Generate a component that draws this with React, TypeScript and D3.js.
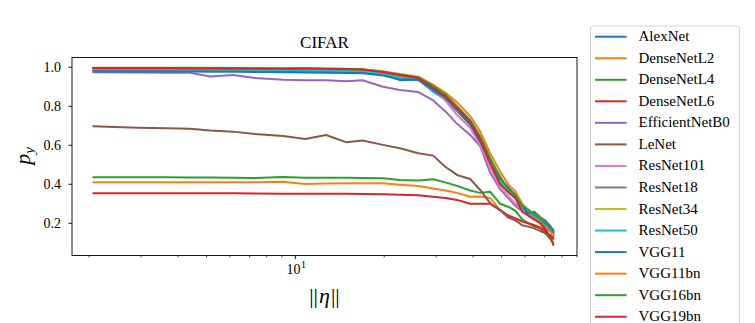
import React from 'react';
import * as d3 from 'd3';

const etaValues = [2.07, 2.91, 3.68, 4.40, 5.14, 6.15, 7.30, 9.08, 10.8, 12.7, 14.9, 16.9, 19.8, 22.6, 26.1, 29.3, 32.2, 35.3, 39.1, 42.3, 45.7, 49.4, 52.6, 55.6, 58.7, 61.5, 64.4, 67.6, 70.2, 73.0, 74.8];

const seriesNames = ['AlexNet', 'DenseNetL2', 'DenseNetL4', 'DenseNetL6', 'EfficientNetB0', 'LeNet', 'ResNet101', 'ResNet18', 'ResNet34', 'ResNet50', 'VGG11', 'VGG11bn', 'VGG16bn', 'VGG19bn'];

const alexNet = [0.984,0.984,0.984,0.983,0.983,0.982,0.981,0.979,0.977,0.976,0.975,0.972,0.962,0.934,0.937,0.875,0.835,0.775,0.705,0.615,0.52,0.44,0.37,0.35,0.27,0.26,0.255,0.232,0.205,0.185,0.16];
const denseNetL2 = [0.41,0.41,0.41,0.41,0.41,0.41,0.41,0.413,0.402,0.404,0.406,0.406,0.405,0.398,0.391,0.379,0.368,0.356,0.336,0.338,0.33,0.268,0.24,0.225,0.21,0.2,0.19,0.18,0.17,0.16,0.15];
const denseNetL4 = [0.436,0.436,0.436,0.435,0.435,0.433,0.432,0.437,0.433,0.433,0.433,0.432,0.431,0.422,0.42,0.426,0.41,0.392,0.368,0.356,0.362,0.30,0.285,0.265,0.22,0.20,0.185,0.175,0.15,0.12,0.10];
const denseNetL6 = [0.354,0.354,0.354,0.354,0.354,0.354,0.353,0.352,0.352,0.352,0.351,0.35,0.349,0.347,0.344,0.336,0.33,0.32,0.30,0.30,0.30,0.268,0.24,0.225,0.21,0.20,0.19,0.175,0.16,0.135,0.12];
const efficientNetB0 = [0.974,0.973,0.972,0.972,0.953,0.96,0.945,0.936,0.934,0.933,0.928,0.933,0.9,0.883,0.873,0.83,0.775,0.71,0.653,0.595,0.46,0.375,0.33,0.29,0.26,0.24,0.22,0.21,0.18,0.16,0.14];
const leNet = [0.698,0.69,0.687,0.685,0.676,0.67,0.658,0.648,0.632,0.653,0.615,0.624,0.602,0.585,0.559,0.547,0.49,0.448,0.427,0.371,0.303,0.268,0.23,0.215,0.19,0.183,0.174,0.16,0.15,0.14,0.13];
const resNet101 = [0.99,0.99,0.99,0.989,0.989,0.988,0.987,0.986,0.985,0.985,0.984,0.982,0.97,0.952,0.94,0.885,0.83,0.755,0.69,0.6,0.49,0.385,0.34,0.3,0.275,0.245,0.23,0.21,0.185,0.16,0.14];
const resNet18 = [0.991,0.991,0.991,0.99,0.99,0.99,0.989,0.988,0.988,0.987,0.986,0.984,0.972,0.957,0.945,0.895,0.85,0.79,0.72,0.635,0.52,0.42,0.36,0.33,0.28,0.255,0.235,0.215,0.19,0.165,0.145];
const resNet34 = [0.993,0.993,0.993,0.992,0.992,0.991,0.99,0.99,0.99,0.989,0.988,0.986,0.975,0.96,0.948,0.9,0.855,0.795,0.725,0.64,0.53,0.425,0.37,0.335,0.285,0.26,0.24,0.22,0.195,0.17,0.15];
const resNet50 = [0.988,0.988,0.988,0.987,0.987,0.986,0.985,0.984,0.984,0.983,0.982,0.979,0.967,0.948,0.935,0.88,0.84,0.78,0.71,0.625,0.515,0.41,0.36,0.34,0.28,0.255,0.24,0.22,0.195,0.17,0.15];
const vgg11 = [0.978,0.978,0.978,0.978,0.977,0.977,0.976,0.974,0.973,0.972,0.971,0.969,0.958,0.938,0.935,0.885,0.845,0.785,0.71,0.62,0.51,0.43,0.385,0.345,0.29,0.25,0.26,0.23,0.215,0.185,0.165];
const vgg11bn = [0.998,0.998,0.998,0.997,0.997,0.996,0.995,0.993,0.995,0.993,0.992,0.99,0.98,0.966,0.952,0.91,0.87,0.82,0.75,0.67,0.56,0.465,0.40,0.365,0.30,0.27,0.245,0.23,0.20,0.17,0.14];
const vgg16bn = [0.996,0.996,0.996,0.995,0.995,0.994,0.993,0.992,0.993,0.991,0.99,0.988,0.977,0.962,0.948,0.905,0.86,0.8,0.73,0.645,0.535,0.435,0.375,0.345,0.29,0.27,0.245,0.225,0.2,0.175,0.155];
const vgg19bn = [0.996,0.996,0.996,0.995,0.995,0.995,0.994,0.993,0.994,0.992,0.991,0.989,0.975,0.96,0.945,0.895,0.85,0.79,0.72,0.63,0.51,0.40,0.36,0.33,0.26,0.24,0.22,0.20,0.17,0.13,0.09];

const seriesValues = [alexNet, denseNetL2, denseNetL4, denseNetL6, efficientNetB0, leNet, resNet101, resNet18, resNet34, resNet50, vgg11, vgg11bn, vgg16bn, vgg19bn];

const yTicks = [0.2, 0.4, 0.6, 0.8, 1.0];
const xMinorTicks = [2, 3, 4, 5, 6, 7, 8, 9, 20, 30, 40, 50, 60, 70, 80, 90];
const xMajorTicks = [10];

const FONT = '"Liberation Serif", "Times New Roman", serif';

export default function App() {
  const W = 755, H = 323;
  const L = 72, R = 577, T = 57.5, B = 255.5;
  const x = d3.scaleLog().domain([1.75, 90]).range([L, R]);
  const y = d3.scaleLinear().domain([0.035, 1.05]).range([B, T]);
  const colors = d3.schemeCategory10;
  const line = d3.line<number>().x((_, i) => x(etaValues[i])).y((d) => y(d));

  const legX = 590.5, legY = 26, legW = 149, rowH = 21.54, firstRow = 36.7;

  return (
    <svg width={W} height={H} style={{ position: 'absolute', left: 0, top: 0, background: '#fff' }} fontFamily={FONT}>
      <defs>
        <clipPath id="plotclip">
          <rect x={L} y={T} width={R - L} height={B - T} />
        </clipPath>
      </defs>
      <rect x={0} y={0} width={W} height={H} fill="#fff" />
      <g clipPath="url(#plotclip)">
        {seriesValues.map((vals, i) => (
          <path key={seriesNames[i]} d={line(vals) || ''} fill="none" stroke={colors[i % 10]} strokeWidth={2} strokeLinejoin="round" strokeLinecap="square" />
        ))}
      </g>
      <rect x={L} y={T} width={R - L} height={B - T} fill="none" stroke="#000" strokeWidth={0.9} />
      {yTicks.map((t) => (
        <g key={t}>
          <line x1={L - 3.5} x2={L} y1={y(t)} y2={y(t)} stroke="#000" strokeWidth={0.9} />
          <text x={L - 11} y={y(t)} dy="0.35em" textAnchor="end" fontSize={14}>{t.toFixed(1)}</text>
        </g>
      ))}
      {xMinorTicks.map((t) => (
        <line key={t} x1={x(t)} x2={x(t)} y1={B} y2={B + 2} stroke="#000" strokeWidth={0.7} />
      ))}
      {xMajorTicks.map((t) => (
        <g key={t}>
          <line x1={x(t)} x2={x(t)} y1={B} y2={B + 3.5} stroke="#000" strokeWidth={0.9} />
          <text x={x(t) - 2} y={B + 18.5} textAnchor="middle" fontSize={14}>10</text>
          <text x={x(t) + 8} y={B + 12.5} textAnchor="middle" fontSize={10}>1</text>
        </g>
      ))}
      <text x={(L + R) / 2} y={48} textAnchor="middle" fontSize={17}>CIFAR</text>
      <text x={(L + R) / 2} y={303} textAnchor="middle" fontSize={22}>
        <tspan>||</tspan><tspan fontStyle="italic" dx={1}>η</tspan><tspan dx={1}>||</tspan>
      </text>
      <g transform={`translate(30, 156) rotate(-90)`}>
        <text textAnchor="middle" fontSize={22} fontStyle="italic">
          <tspan>p</tspan><tspan fontSize={15} dy={4}>y</tspan>
        </text>
      </g>
      <rect x={legX} y={legY} width={legW} height={320} rx={3} ry={3} fill="#fff" fillOpacity={0.8} stroke="#cccccc" strokeWidth={0.9} />
      {seriesNames.map((name, i) => {
        const cy = firstRow + i * rowH;
        return (
          <g key={name}>
            <line x1={595} x2={626.5} y1={cy} y2={cy} stroke={colors[i % 10]} strokeWidth={2} />
            <text x={638.5} y={cy} dy="0.3em" fontSize={15}>{name}</text>
          </g>
        );
      })}
    </svg>
  );
}
